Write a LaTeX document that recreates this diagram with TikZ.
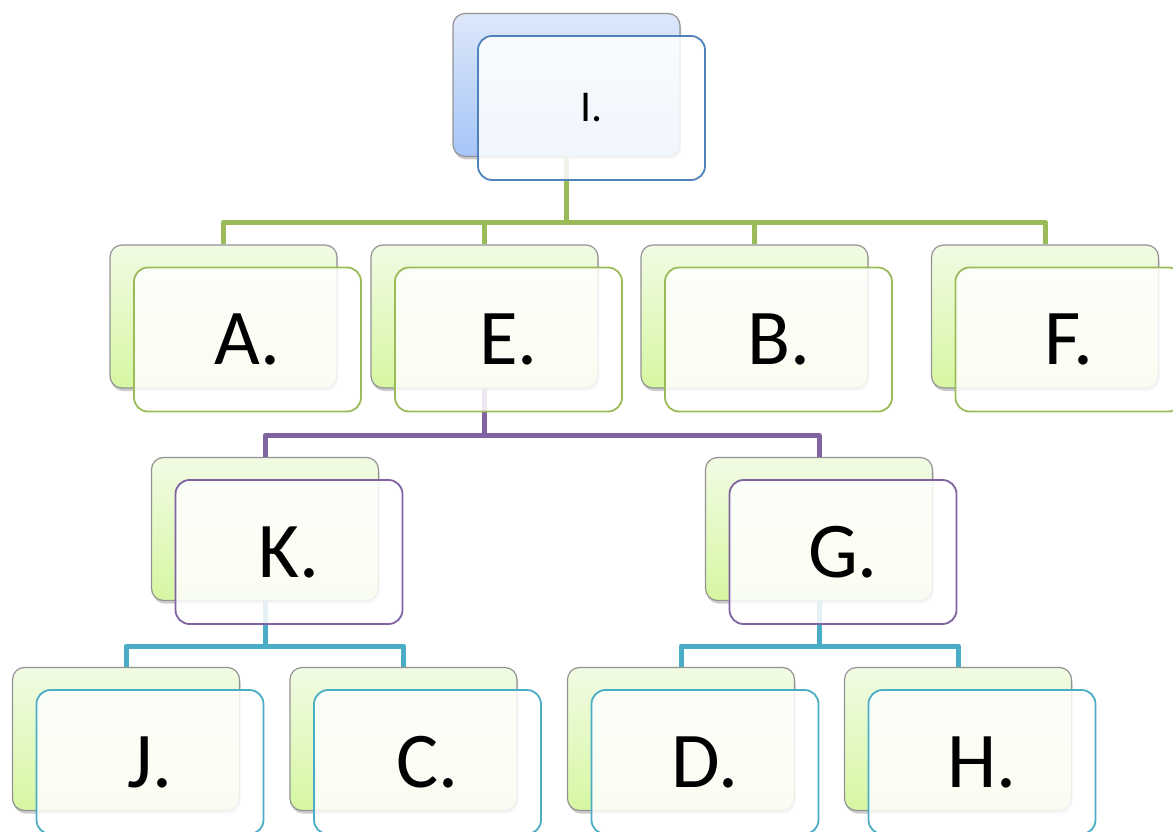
\documentclass[tikz,border=0pt]{standalone}
\usepackage{fontspec}
\setmainfont{Carlito}
\usetikzlibrary{shadows}
\definecolor{cgreen}{HTML}{9BBB59}
\definecolor{cpurple}{HTML}{8064A2}
\definecolor{cteal}{HTML}{4BACC6}
\definecolor{cblue}{HTML}{4F81BD}
\definecolor{gtop}{HTML}{F1FBE4}
\definecolor{gbot}{HTML}{D6F7A2}
\definecolor{btop}{HTML}{DDE8FA}
\definecolor{bbot}{HTML}{A6C5F7}
\begin{document}
\begin{tikzpicture}[x=1pt, y=-1pt, line join=round, line cap=round,
	back/.style={draw=gray!85, line width=1.2pt, rounded corners=12pt,
		minimum width=227pt, minimum height=143pt, top color=gtop, bottom color=gbot,
		drop shadow={shadow xshift=1pt, shadow yshift=-3pt, opacity=0.4}},
	front/.style={line width=1.8pt, rounded corners=14pt, minimum width=227pt,
		minimum height=144pt, fill=white, fill opacity=0.85, text opacity=1,
		font=\fontsize{79}{80}\selectfont},
	link/.style={line width=5pt, line cap=butt}]
	\useasboundingbox (0,0) rectangle (1173,832);
	% back boxes
	\node[back, top color=btop, bottom color=bbot] (bI) at (566.5,85) {};
	\foreach \n/\x/\y in {A/223.5/316.5, E/484.5/316.5, B/754.5/316.5, F/1045/316.5,
		K/265/529, G/819/529, J/126/739, C/403.5/739, D/681/739, H/958/739}
	\node[back] (b\n) at (\x,\y) {};
	% connectors
	\foreach \p/\d/\c/\kids in {I/65/cgreen/{A,E,B,F}, E/47/cpurple/{K,G},
		K/45/cteal/{J,C}, G/45/cteal/{D,H}}
	\foreach \q in \kids
	\draw[link, \c] (b\p.south) -- ++(0,\d) -| (b\q.north);
	% front boxes
	\node[front, draw=cblue, font=\fontsize{44}{45}\selectfont] (I) at ([shift={(25,23)}]bI.center) {I.};
	\foreach \n/\c in {A/cgreen, E/cgreen, B/cgreen, F/cgreen, K/cpurple, G/cpurple,
		J/cteal, C/cteal, D/cteal, H/cteal}
	\node[front, draw=\c] (\n) at ([shift={(24,23)}]b\n.center) {\n.};
\end{tikzpicture}
\end{document}
